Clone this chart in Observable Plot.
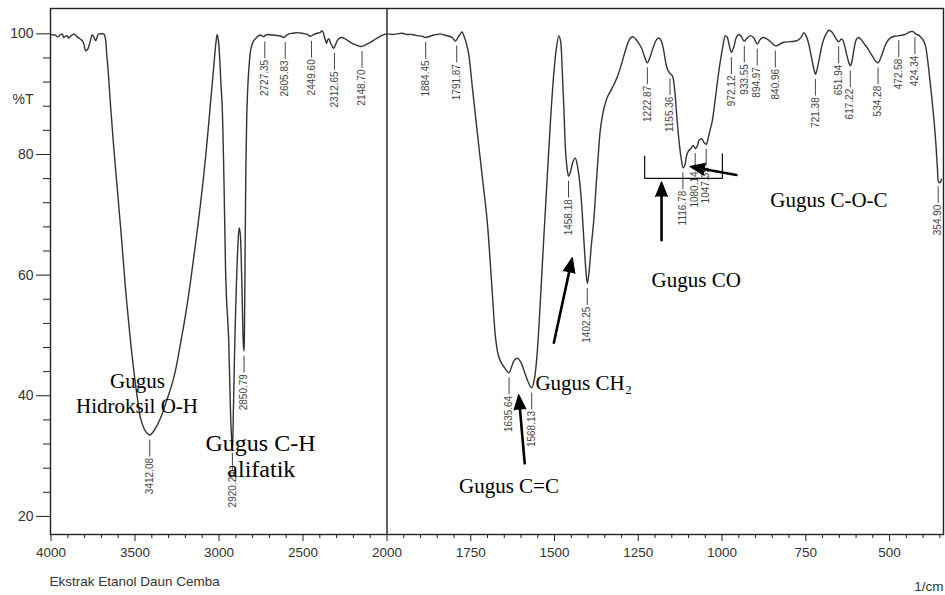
<!DOCTYPE html>
<html>
<head>
<meta charset="utf-8">
<script src="https://cdn.jsdelivr.net/npm/d3@7"></script>
<script src="https://cdn.jsdelivr.net/npm/@observablehq/plot@0.6"></script>
<style>
  html, body { margin: 0; padding: 0; background: #fff; }
  #chart svg { display: block; }
</style>
</head>
<body>
<div id="chart"></div>
<script>
// ---------- spectrum (wavenumber, 1/cm  ->  %T) ----------
const wavenumber = [
  4000,3985,3973,3963,3953,3943,3933,3924,3914,3904,3894,3884,3874,3864,3854,3844,3834,3824,3815,3808,
  3800,3795,3787,3779,3772,3765,3755,3745,3738,3733,3727,3721,3712,3700,3690,3683,3676,3668,3660,3646,
  3626,3606,3580,3557,3530,3507,3485,3467,3445,3428,3412,3395,3370,3348,3310,3269,3230,3189,3150,3110,
  3080,3051,3030,3018,3011,3004,2995,2988,2981,2970,2961,2955,2948,2942,2935,2927,2920,2914,2905,2897,
  2888,2880,2874,2868,2861,2855,2851,2848,2844,2840,2835,2828,2820,2810,2795,2775,2755,2740,2733,2724,
  2705,2690,2674,2650,2630,2614,2600,2585,2560,2535,2505,2475,2455,2435,2416,2400,2386,2378,2372,2366,
  2360,2353,2346,2338,2325,2317,2305,2295,2287,2267,2240,2217,2190,2170,2158,2140,2120,2098,2070,2039,
  2015,2000,1985,1970,1955,1940,1925,1910,1895,1885,1872,1860,1850,1840,1828,1815,1805,1796,1788,1781,
  1776,1770,1763,1756,1745,1731,1715,1701,1688,1676,1668,1661,1650,1636,1628,1620,1610,1600,1590,1578,
  1568,1560,1552,1542,1532,1522,1512,1502,1494,1487,1482,1477,1472,1467,1462,1458,1452,1445,1438,1432,
  1426,1420,1412,1406,1402,1397,1390,1383,1375,1368,1363,1353,1343,1328,1313,1300,1287,1275,1265,1253,
  1240,1230,1223,1214,1205,1196,1189,1182,1175,1168,1162,1155,1148,1141,1134,1127,1121,1116,1111,1106,
  1100,1093,1086,1080,1074,1068,1060,1054,1047,1041,1035,1029,1020,1012,1005,998,990,985,978,972,
  965,958,950,943,934,925,915,905,895,887,878,868,855,846,840,830,816,795,775,763,
  756,750,744,738,731,726,721,716,710,703,695,687,681,672,663,656,651,645,640,634,
  628,622,617,612,606,599,592,584,575,567,558,548,540,534,528,520,512,505,495,485,
  472,460,450,440,432,426,420,413,405,398,392,386,380,374,368,362,357,354,350,345
];
const transmittance = [
  99.9,99.8,99.8,99.5,99.6,99.9,99.9,99.4,99.6,99.7,99.3,99.6,99.8,100.0,99.8,99.5,99.3,99.1,98.9,98.6,
  97.8,97.2,97.3,97.6,98.2,98.9,99.8,99.5,99.0,98.9,99.3,99.8,100.0,100.0,100.0,99.9,99.2,96.5,94.0,88.3,
  81.0,74.5,66.0,57.9,50.0,44.1,39.5,36.3,34.5,33.8,33.5,33.9,35.0,36.3,39.3,43.0,48.5,55.2,63.0,71.8,
  79.5,88.4,95.0,98.6,99.9,99.0,95.5,91.5,88.0,75.0,61.0,56.0,52.5,49.0,41.0,34.0,31.3,38.0,50.0,58.0,
  64.5,67.8,67.0,63.0,55.0,48.5,47.4,52.0,66.0,78.0,86.0,91.5,95.0,97.5,98.8,99.4,99.8,99.6,99.5,99.8,
  99.9,99.8,99.8,99.7,99.6,99.4,99.7,100.0,100.1,100.2,100.1,99.9,99.6,99.9,100.1,100.2,100.5,100.1,99.4,98.9,
  98.4,99.0,99.2,98.6,97.9,97.6,98.3,98.9,99.2,99.4,99.0,98.6,98.2,98.0,97.9,98.0,98.3,98.6,99.1,99.6,
  99.9,100.0,99.9,100.0,100.1,99.9,99.9,99.7,99.6,99.4,99.6,99.8,99.9,100.0,99.8,99.6,99.4,98.8,99.4,100.0,
  100.3,99.6,98.4,96.6,91.0,83.9,76.0,69.0,59.0,49.6,46.8,45.7,44.7,43.8,44.8,45.9,46.2,45.5,44.0,42.2,
  41.3,42.8,46.9,56.0,66.2,76.0,85.6,93.5,97.8,99.7,98.8,94.0,87.5,80.5,77.5,76.4,77.2,78.8,79.4,78.2,
  76.0,72.5,65.5,60.5,58.6,60.5,65.0,69.0,75.5,81.0,84.2,87.5,89.4,91.0,92.8,95.0,97.5,99.2,99.5,98.8,
  97.6,96.0,95.2,96.3,97.8,99.0,99.3,98.9,97.5,95.2,94.0,93.4,93.0,90.5,85.6,81.5,79.0,77.8,78.2,79.8,
  80.6,81.0,81.5,81.0,81.4,82.4,82.6,82.0,81.7,82.8,84.2,85.6,89.3,92.8,95.5,97.8,99.7,99.5,98.0,96.9,
  97.8,99.3,99.9,99.6,98.8,99.3,99.7,99.3,98.3,99.0,99.4,99.2,98.7,98.2,98.0,98.2,98.6,98.7,98.9,99.5,
  100.2,99.8,98.9,97.5,95.5,94.2,93.3,94.2,95.8,97.8,99.3,100.2,100.6,100.3,99.5,98.9,98.7,99.1,99.0,98.0,
  96.6,95.3,94.7,95.5,97.5,99.1,99.4,99.0,98.3,97.7,96.9,96.0,95.4,95.2,95.8,97.0,98.2,98.9,99.4,99.6,
  99.7,99.8,100.0,100.3,100.4,100.2,99.9,99.8,99.3,98.8,97.8,95.5,92.5,89.5,86.0,82.0,77.5,75.5,75.3,75.9
];

// ---------- peak labels ----------
const peakWn = [3412.08,2920.24,2850.79,2727.35,2605.83,2449.60,2312.65,2148.70,1884.45,1791.87,
  1635.64,1568.13,1458.18,1402.25,1222.87,1155.36,1116.78,1080.14,1047.35,972.12,933.55,894.97,
  840.96,721.38,651.94,617.22,534.28,472.58,424.34,354.90];
const peakT = [33.5,31.3,47.4,99.5,99.4,99.6,97.6,97.9,99.4,98.8,
  43.8,41.3,76.4,58.6,95.2,93.4,77.8,81.0,81.7,96.9,98.8,98.3,
  98.0,93.3,98.7,94.7,95.2,99.7,100.2,75.5];
const peakLabel = ["3412.08","2920.24","2850.79","2727.35","2605.83","2449.60","2312.65","2148.70","1884.45","1791.87",
  "1635.64","1568.13","1458.18","1402.25","1222.87","1155.36","1116.78","1080.14","1047.35","972.12","933.55","894.97",
  "840.96","721.38","651.94","617.22","534.28","472.58","424.34","354.90"];

// ---------- axis ticks ----------
const xMajorTicks = [4000,3500,3000,2500,2000,1750,1500,1250,1000,750,500];
const xMinorTicks = [3900,3800,3700,3600,3400,3300,3200,3100,2900,2800,2700,2600,2400,2300,2200,2100,
  1950,1900,1850,1800,1700,1650,1600,1550,1450,1400,1350,1300,1200,1150,1100,1050,
  950,900,850,800,700,650,600,550,450,400,350];
const yMajorTicks = [20,40,60,80,100];
const yMinorTicks = [24,28,32,36,44,48,52,56,64,68,72,76,84,88,92,96];

// ---------- annotations (in data units) ----------
const noteText = ["Gugus","Hidroksil O-H","Gugus C-H","alifatik","Gugus C=C","Gugus CH\u2082","Gugus CO","Gugus C-O-C"];
const noteWn   = [3485, 3488, 2753, 2748, 1636, 1557, 1077, 681];
const noteT    = [41.3, 37.15, 30.8, 26.6, 23.9, 41.0, 58.1, 71.3];
const noteSize = [21, 21, 24, 24, 21, 21, 21, 21];
const noteAnchor = ["middle","middle","middle","middle","middle","start","middle","middle"];

const arrowTailWn = [1589, 1502, 1180.6, 957];
const arrowTailT  = [28.8, 48.8, 65.8, 76.6];
const arrowTipWn  = [1607, 1447, 1180.6, 1096];
const arrowTipT   = [40.2, 62.9, 75.5, 78.0];

const bracketWn = [1231, 1231, 999, 999];
const bracketT  = [79.75, 76.05, 76.05, 80.1];

// ---------- build ----------
const W = 945, H = 595;
const mL = 50, mR = 2, mT = 8, mB = 61;
const xDomain = [4000, 2000, 339];
const xRange = [50.5, 386.5, 943];
const yDomain = [17, 104.2];

const spectrum = wavenumber.map((w, i) => ({wn: w, T: transmittance[i]}));
const peaks = peakWn.map((w, i) => ({wn: w, T: peakT[i], label: peakLabel[i]}));
const notes = noteText.map((t, i) => ({text: t, wn: noteWn[i], T: noteT[i], size: noteSize[i], anchor: noteAnchor[i]}));
const bracket = bracketWn.map((w, i) => ({wn: w, T: bracketT[i]}));

const sx = Plot.scale({x: {type: "linear", domain: xDomain, range: xRange}});
const sy = Plot.scale({y: {type: "linear", domain: yDomain, range: [H - mB, mT]}});
const arrows = arrowTailWn.map((w, i) => {
  const x1 = sx.apply(w), y1 = sy.apply(arrowTailT[i]);
  const x2 = sx.apply(arrowTipWn[i]), y2 = sy.apply(arrowTipT[i]);
  return {
    tailWn: w, tailT: arrowTailT[i], tipWn: arrowTipWn[i], tipT: arrowTipT[i],
    angle: Math.atan2(x2 - x1, -(y2 - y1)) * 180 / Math.PI,
    len: Math.hypot(x2 - x1, y2 - y1)
  };
});

const lineShape = {draw(context, l) { context.moveTo(0, 0); context.lineTo(0, -l); }};
const sans = "'Liberation Sans', Arial, Helvetica, sans-serif";
const serif = "'Liberation Serif', 'Times New Roman', 'DejaVu Serif', serif";

const chart = Plot.plot({
  width: W, height: H,
  marginLeft: mL, marginRight: mR, marginTop: mT, marginBottom: mB,
  style: {fontFamily: sans, fontSize: "13px", color: "#222", background: "#fff"},
  x: {type: "linear", domain: xDomain, range: xRange},
  y: {type: "linear", domain: yDomain},
  length: {type: "identity"},
  marks: [
    // axes
    Plot.axisX({ticks: xMajorTicks, tickSize: 7, tickPadding: 6, tickFormat: "d", fontSize: 13.5, label: null, fill: "#333"}),
    Plot.axisX({ticks: xMinorTicks, tickSize: 4, tickFormat: () => "", label: null}),
    Plot.axisY({ticks: yMajorTicks, tickSize: 14, tickPadding: 3, tickFormat: "d", fontSize: 14, label: null, fill: "#333"}),
    Plot.axisY({ticks: yMinorTicks, tickSize: 7, tickFormat: () => "", label: null}),
    Plot.frame({stroke: "#222", strokeWidth: 1.4}),
    Plot.ruleX([2000], {stroke: "#222", strokeWidth: 1.4}),

    // spectrum
    Plot.line(spectrum, {x: "wn", y: "T", stroke: "#333", strokeWidth: 1.4, curve: "catmull-rom"}),

    // peak label leader lines and labels
    Plot.vector(peaks, {x: "wn", y: "T", length: 16, rotate: 180, anchor: "start", dy: 5,
      shape: lineShape, stroke: "#444", strokeWidth: 1}),
    Plot.text(peaks, {x: "wn", y: "T", text: "label", rotate: -90, textAnchor: "end", dy: 23,
      fontSize: 10, fill: "#444", fontFamily: sans}),

    // bracket
    Plot.line(bracket, {x: "wn", y: "T", stroke: "#111", strokeWidth: 1.2}),

    // arrows
    Plot.vector(arrows, {x: "tailWn", y: "tailT", rotate: "angle", length: d => d.len - 12, anchor: "start",
      shape: lineShape, stroke: "#000", strokeWidth: 2.6}),
    Plot.vector(arrows, {x: "tipWn", y: "tipT", rotate: "angle", length: 15, r: 6, anchor: "end",
      shape: "spike", fill: "#000", stroke: "#000", strokeWidth: 1}),

    // annotation texts
    Plot.text(notes, {x: "wn", y: "T", text: "text", fontSize: "size", textAnchor: "middle",
      lineAnchor: "bottom", fill: "#000", fontFamily: serif, filter: d => d.anchor === "middle"}),
    Plot.text(notes, {x: "wn", y: "T", text: "text", fontSize: "size", textAnchor: "start",
      lineAnchor: "bottom", fill: "#000", fontFamily: serif, filter: d => d.anchor === "start"}),

    // axis titles / caption
    Plot.text(["%T"], {frameAnchor: "top-left", dx: -27.5, dy: 86, textAnchor: "middle", fontSize: 14, fill: "#333"}),
    Plot.text(["Ekstrak Etanol Daun Cemba"], {frameAnchor: "bottom-left", dx: -1, dy: 51, textAnchor: "start", fontSize: 13.5, fill: "#333"}),
    Plot.text(["1/cm"], {frameAnchor: "bottom-right", dy: 56, textAnchor: "end", fontSize: 13.5, fill: "#333"})
  ]
});
document.getElementById("chart").appendChild(chart);
</script>
</body>
</html>
